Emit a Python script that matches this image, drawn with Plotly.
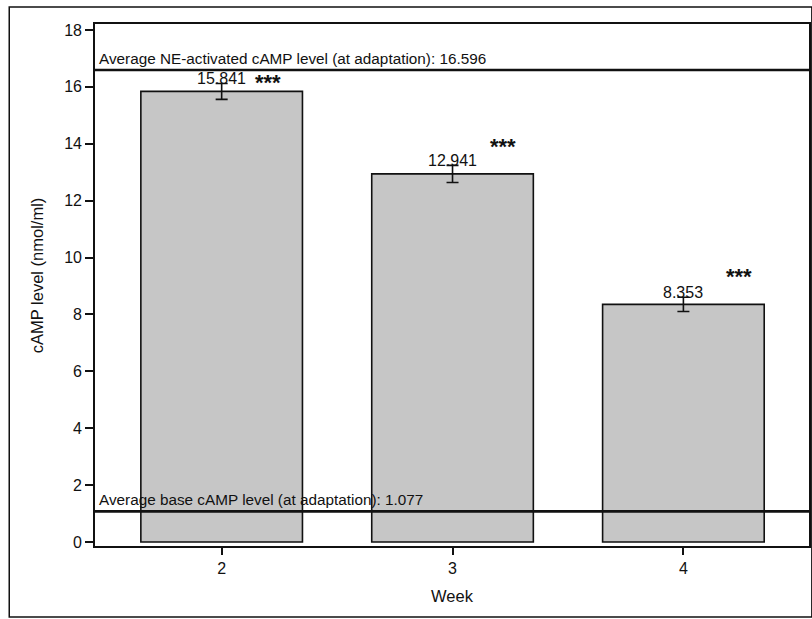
import plotly.graph_objects as go

# ---- data ----
weeks = [2, 3, 4]
camp_means = [15.841, 12.941, 8.353]
camp_errors = [0.28, 0.30, 0.25]
value_labels = ["15.841", "12.941", "8.353"]
star_x = [2.20, 3.22, 4.24]
star_y = [16.24, 13.96, 9.42]
star_labels = ["***", "***", "***"]
ref_values = [16.596, 1.077]
ref_labels = ["Average NE-activated cAMP level (at adaptation): 16.596",
              "Average base cAMP level (at adaptation): 1.077"]
y_ticks = [0, 2, 4, 6, 8, 10, 12, 14, 16, 18]

FONT = "Liberation Sans, Arial, sans-serif"
INK = "#111111"

fig = go.Figure()
fig.add_trace(go.Bar(
    x=weeks, y=camp_means, width=0.70,
    marker=dict(color="#c6c6c6", line=dict(color=INK, width=1.6)),
    error_y=dict(type="data", array=camp_errors, visible=True,
                 color=INK, thickness=1.6, width=6),
    hoverinfo="skip", showlegend=False,
))

shapes = []
annotations = []
for v, lab in zip(ref_values, ref_labels):
    shapes.append(dict(type="line", xref="paper", yref="y", x0=0, x1=1, y0=v, y1=v,
                       line=dict(color=INK, width=2.6), layer="above"))
    annotations.append(dict(xref="paper", yref="y", x=0, y=v, xanchor="left", yanchor="bottom",
                            xshift=2, yshift=1, text=lab, showarrow=False,
                            font=dict(family=FONT, size=15.3, color=INK)))

for x, m, e, t in zip(weeks, camp_means, camp_errors, value_labels):
    annotations.append(dict(x=x, y=m + e, xref="x", yref="y", xanchor="center", yanchor="bottom",
                            yshift=-6, text=t, showarrow=False,
                            font=dict(family=FONT, size=16, color=INK)))

for x, y, t in zip(star_x, star_y, star_labels):
    annotations.append(dict(x=x, y=y, xref="x", yref="y", xanchor="center", yanchor="middle",
                            yshift=-2, text="<b>" + t + "</b>", showarrow=False,
                            font=dict(family=FONT, size=22, color=INK)))

# y axis title
annotations.append(dict(xref="paper", yref="paper", x=-0.081, y=0.519, xanchor="center",
                        yanchor="middle", textangle=-90, text="cAMP level (nmol/ml)",
                        showarrow=False, font=dict(family=FONT, size=16.5, color=INK)))

# outer frame
shapes.append(dict(type="rect", xref="paper", yref="paper",
                   x0=-0.1201, x1=1.004, y0=-0.136, y1=1.0326,
                   line=dict(color=INK, width=1.5), layer="below"))

fig.update_layout(
    width=812, height=619,
    margin=dict(l=95, r=1, t=24, b=73),
    paper_bgcolor="white", plot_bgcolor="white",
    font=dict(family=FONT, size=15, color=INK),
    shapes=shapes, annotations=annotations,
    bargap=0.3,
    xaxis=dict(
        range=[1.4514, 4.544], tickmode="array", tickvals=weeks,
        ticktext=[str(w) for w in weeks],
        ticks="outside", ticklen=7, tickwidth=1.5, tickcolor=INK,
        showline=True, linecolor=INK, linewidth=1.6, mirror=True,
        showgrid=False, zeroline=False,
        tickfont=dict(family=FONT, size=16, color=INK),
        title=dict(text="Week", standoff=14, font=dict(family=FONT, size=16.5, color=INK)),
    ),
    yaxis=dict(
        range=[-0.141, 18.211], tickmode="array", tickvals=y_ticks,
        ticks="outside", ticklen=8, tickwidth=1.5, tickcolor=INK,
        showline=True, linecolor=INK, linewidth=1.6, mirror=True,
        showgrid=False, zeroline=False,
        tickfont=dict(family=FONT, size=16, color=INK),
    ),
)

fig.write_html("out.html")
